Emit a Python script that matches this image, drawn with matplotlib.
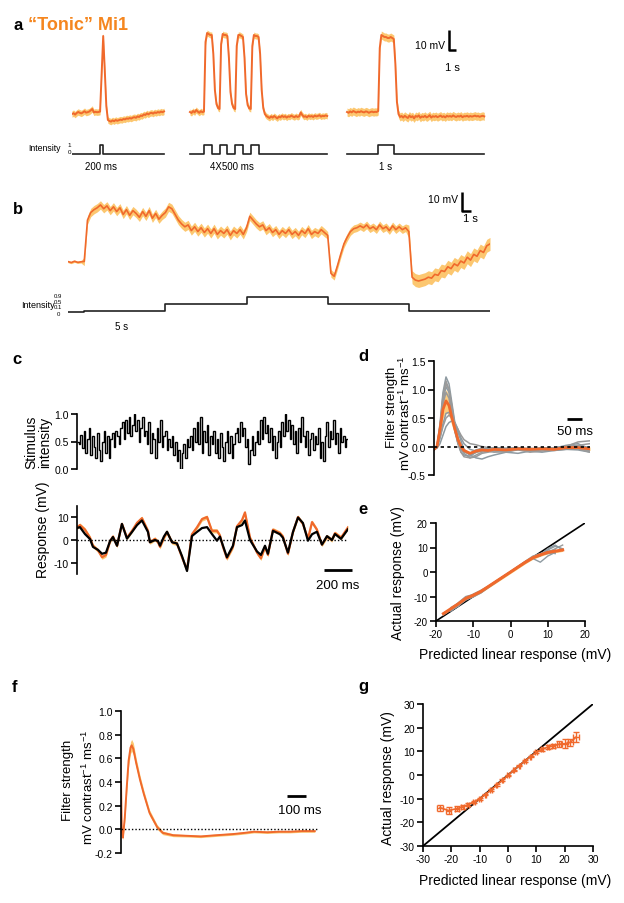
import numpy as np
import matplotlib
matplotlib.use('Agg')
import matplotlib.pyplot as plt

plt.rcParams['font.family'] = ['Liberation Sans', 'DejaVu Sans']
plt.rcParams['mathtext.fontset'] = 'custom'
plt.rcParams['mathtext.rm'] = 'Liberation Sans'
plt.rcParams['axes.unicode_minus'] = False

ORANGE = '#F0692C'
BAND = '#FCC770'
TITLE_OR = '#F5861F'
GREYS = ['#8E9AA1', '#9A9A9A']

# ---------------- data ----------------
# panel a: responses (mV) sampled every 0.1 s, three stimulus protocols
a_dt = 0.1
a_offsets = [0.0, 7.56, 17.63]
a_seg1 = [0.0, 0.4, -0.3, 0.5, 1.0, 0.6, 0.3, 0.8, 1.4, 0.7, 0.9, 1.2, 1.8, 2.5, 0.8, 1.1, 0.9, 1.0, 1.2,
          20, 39, 22, 4, -3,
          -3.5, -3.8, -3.2, -3.6, -3.0, -3.4, -3.1, -2.8, -3.0, -2.5, -2.7, -2.2, -2.4, -2.0, -2.3, -1.8,
          -1.6, -1.9, -1.2, -1.5, -0.8, -1.0, -0.2, -0.5, 0.3, -0.2, 0.4, 0.6, 0.2, 0.8, 0.5, 1.0, 0.7,
          1.2, 0.9, 1.3]
a_seg2 = [1.0, 0.5, 1.5, 0.8, 2.0, 1.2, 0.6, 1.4, 0.9,
          1.2,
          36, 40.5, 40, 39.5, 39.5, 30, 12, 5, 3,
          2.5, 35, 40, 39.5, 39.5, 39, 28, 11, 5, 3,
          2.5, 34, 39.5, 39.5, 39, 38.5, 28, 10, 4.5, 2.8,
          2.5, 34, 39.5, 39, 39, 38.5, 30, 12, 3, 0, -1,
          -1.5, -2.0, -1.2, -1.8, -1.0, -1.6, -2.2, -1.3, -1.7, -0.9, -1.5, -1.1, -1.8, -1.2, -1.4, -0.8,
          -1.3, -1.6, -1.0, -1.5, -1.2, 0.8, -0.5, -1.4, -1.1, -1.7, -0.9, -1.3, -1.0, -1.5, -0.8, -1.2,
          -1.0, -0.6, -1.3, -0.9, -1.1, -0.7, -1.0]
a_seg3 = [1.0, 0.6, 1.3, 0.8, 1.5, 1.1, 0.7, 1.2, 0.9, 1.4, 1.0, 0.8, 1.3, 1.1, 0.6, 1.0, 1.2, 0.9, 1.1, 1.0,
          1.5, 33, 39.5, 39, 38.5, 38.5, 38, 38, 38.5, 38, 37.5, 25, 6, 0, -1.5, -1.0,
          -1.8, -0.9, -1.5, -2.0, -0.8, -1.6, -1.1, -2.2, -1.0, -1.4, -0.7, -1.9, -1.2, -1.5, -0.9, -1.7,
          -1.3, -0.6, -1.8, -1.1, -1.4, -1.0, -1.6, -1.2, -0.8, -1.5, -1.1, -1.7, -0.9, -1.3, -1.0, -1.4,
          -0.7, -1.2, -1.5, -1.0, -1.3, -0.8, -1.6, -1.1, -1.2, -0.9, -1.4, -1.0, -1.3, -1.1, -0.8, -1.2,
          -1.0, -1.4, -1.1, -0.9, -1.2]
a_sem = [1.6, 1.5, 2.0]
# stimulus protocols (local times in s, intensity levels)
a_stim_t = [[0, 1.8, 2.0, 5.9],
            [0, 0.9, 1.4, 1.9, 2.4, 2.9, 3.4, 3.9, 4.4, 8.8],
            [0, 2.0, 3.0, 8.8]]
a_stim_lv = [[0, 1, 0],
             [0, 1, 0, 1, 0, 1, 0, 1, 0],
             [0, 1, 0]]
a_stim_names = ['200 ms', '4X500 ms', '1 s']

# panel b: response (mV) every 0.2 s, stepped intensities
b_dt = 0.2
b_resp = [0.2, -0.3, 0.4, -0.2, 0.1, 0.3,
          22, 26, 27.5, 28.5, 30, 28, 29.5, 27, 29, 26.5,
          28.5, 25, 27.5, 24.5, 27, 25.5, 23.5, 26.5, 24, 27,
          23, 25.5, 22.5, 24.5, 26, 29, 28, 25, 22, 20,
          18.5, 19.5, 16.5, 18.5, 16, 18, 15.5, 17.5, 15, 17.5,
          14.5, 16.5, 15, 17, 14, 16.5, 15, 17, 14.5, 18,
          24, 22, 20, 18.5, 19.5, 16.5, 18, 15.5, 17, 14.5,
          16.5, 15, 17, 14.5, 16, 14, 16.5, 15, 17.5, 14.5,
          16, 15, 17, 15.5, 14, -6, -7.5, -2, 4, 9.5,
          13, 16, 17.5, 18, 19, 18, 19.5, 17.5, 18.5, 17,
          19.5, 17.5, 18.5, 16.5, 19, 17, 18.5, 17, 18, 16,
          -8, -9.5, -10, -9.5, -9, -8, -8.5, -6.5, -7, -4.5,
          -5, -2.5, -3.5, -1, -2, 0.5, -0.5, 2.5, 1, 4,
          3, 6, 5, 8.5, 9.5]
b_step_t = [0, 1, 6, 11, 16, 21, 26]
b_step_lv = [0, 0.1, 0.5, 0.9, 0.5, 0.1]
b_sem_epoch = [0.6, 2.2, 2.4, 2.2, 2.0, 3.4]
b_int_labels = ['0.9', '0.5', '0.1', '0']

# panel c: white-noise stimulus and response
c_stim = [0.5, 0.45, 0.62, 0.38, 0.7, 0.3, 0.55, 0.75, 0.25, 0.6, 0.4, 0.2, 0.65, 0.35,
          0.15, 0.5, 0.7, 0.3, 0.6, 0.2, 0.55, 0.65, 0.4, 0.7, 0.6, 0.45,
          0.75, 0.85, 0.55, 0.9, 0.65, 0.95, 0.6, 0.8, 1.0, 0.7, 0.9, 0.5, 0.75, 0.95, 0.6,
          0.7, 0.45, 0.85, 0.3, 0.65, 0.55, 0.2, 0.75, 0.5, 0.9, 0.4, 0.6, 0.7, 0.35, 0.55,
          0.4, 0.6, 0.25, 0.5, 0.15, 0.35, 0.0, 0.3, 0.45, 0.2, 0.55, 0.4,
          0.6, 0.35, 0.75, 0.5, 0.85, 0.45, 0.95, 0.3, 0.7, 0.5, 0.8, 0.25, 0.6, 0.45, 0.7,
          0.3, 0.55, 0.2, 0.65, 0.4, 0.15, 0.5, 0.7, 0.3, 0.6, 0.2, 0.45, 0.65, 0.75, 0.5,
          0.85, 0.6, 0.75, 0.4, 0.55, 0.1, 0.35, 0.6, 0.25, 0.5, 0.7, 0.45, 0.9, 0.55, 0.95,
          0.65, 0.8, 0.5, 0.75, 0.35, 0.6, 0.2, 0.5, 0.7, 0.4, 0.85, 0.6, 1.0, 0.7, 0.9,
          0.55, 0.8, 0.45, 0.7, 0.3, 0.75, 0.5, 0.95, 0.6, 0.4, 0.7, 0.25, 0.55, 0.65, 0.35,
          0.6, 0.45, 0.75, 0.2, 0.5, 0.15, 0.6, 0.85, 0.4, 0.7, 0.55, 0.9, 0.45, 0.65, 0.3,
          0.75, 0.5, 0.6, 0.4, 0.55]
c_duration = 1.936
c_t = [0, .021, .057, .093, .114, .150, .179, .207, .236, .257, .286, .321, .357, .393, .429,
       .464, .507, .521, .557, .579, .593, .621, .643, .679, .714, .750, .786, .821, .857, .893,
       .929, .964, 1.0, 1.021, 1.043, 1.071, 1.114, 1.143, 1.179, 1.2, 1.236, 1.286, 1.314,
       1.343, 1.364, 1.4, 1.45, 1.471, 1.507, 1.543, 1.579, 1.614, 1.65, 1.679, 1.714, 1.75,
       1.786, 1.821, 1.843, 1.886, 1.936]
c_pred = [5.2, 5.6, 2.6, 0.4, -3, -4.3, -6, -5.5, -0.5, 1.3, -2.5, 7, 0.6, 3.5, 6.5,
          8.5, 3.5, -1, 0, -0.5, -2.5, 1.5, 3.6, -1, -1.5, -7, -13.5, 1.7, 3.5, 5.2,
          5.6, 2.6, -0.3, 1.5, -2.5, -7.5, -2.5, 5.6, 6.5, 8.5, 0, -5, -6.5,
          -2.5, -6, 4, 2.5, 1.0, -5.5, 3.5, 9.8, 7.4, -0.3, 2.5, 3.6, -2,
          1.7, 0, 2.6, 0.5, 4.7]
c_resp = [5.5, 6.5, 4.5, 1.0, -2.5, -4.5, -7.5, -6.5, -0.5, 1.5, -2.5, 7, 1, 4, 7.5,
          9.5, 4, -1, 0.5, -1, -3, 1.0, 3.5, -1, -1.5, -7.5, -13, 2.5, 5.5, 9.1,
          10, 4, 4, 2, -3, -8, -3, 6, 8.7, 12, 1, -5.5, -8,
          -3, -6.5, 4.5, 3, 1.5, -6, 3.5, 10, 7, 0.5, 7.8, 4.5, -2,
          1.5, 0, 3, 1, 5.5]
c_sem = 0.9
c_scale_ms = 200

# panel d: linear filters (mV contrast^-1 ms^-1) vs time (ms)
d_t = [0, 10, 20, 30, 40, 50, 60, 70, 80, 90, 100, 120, 140, 160, 180, 200, 240, 280, 320, 360,
       400, 440, 480, 520]
d_cells = [
    [-0.05, 0.0, 0.4, 0.95, 1.22, 1.1, 0.75, 0.4, 0.15, 0.0, -0.08, -0.15, -0.1, -0.08, -0.05, -0.06,
     -0.05, -0.03, -0.05, -0.02, -0.03, 0.02, 0.05, -0.05],
    [-0.04, 0.02, 0.35, 0.9, 1.15, 1.0, 0.7, 0.35, 0.1, -0.05, -0.12, -0.2, -0.18, -0.12, -0.1, -0.08,
     -0.1, -0.05, -0.08, -0.06, -0.07, -0.05, -0.03, -0.08],
    [-0.06, 0.0, 0.3, 0.8, 1.05, 0.95, 0.6, 0.3, 0.05, -0.1, -0.15, -0.17, -0.1, -0.05, -0.04, -0.06,
     -0.08, -0.03, -0.06, -0.05, -0.04, -0.02, 0.0, -0.06],
    [-0.05, 0.0, 0.3, 0.75, 0.95, 0.85, 0.55, 0.25, 0.05, -0.05, -0.1, -0.12, -0.06, -0.03, -0.05, -0.02,
     -0.04, -0.02, -0.05, -0.03, -0.04, 0.0, 0.08, 0.1],
    [-0.05, -0.02, 0.15, 0.4, 0.58, 0.6, 0.5, 0.4, 0.3, 0.15, 0.05, -0.05, -0.08, -0.05, -0.03, -0.02,
     -0.03, -0.02, -0.05, -0.04, -0.03, 0.0, 0.02, -0.02],
    [-0.04, 0.0, 0.15, 0.35, 0.5, 0.55, 0.5, 0.42, 0.3, 0.2, 0.12, 0.05, 0.03, 0.0, -0.02, -0.04,
     -0.05, -0.04, -0.03, -0.05, -0.02, -0.01, 0.02, 0.05],
    [-0.05, -0.03, 0.05, 0.2, 0.35, 0.42, 0.45, 0.38, 0.25, 0.1, -0.05, -0.15, -0.2, -0.22, -0.18, -0.15,
     -0.1, -0.12, -0.08, -0.1, -0.07, -0.05, -0.06, -0.1],
    [-0.05, 0.0, 0.35, 0.85, 1.1, 1.0, 0.65, 0.3, 0.05, -0.1, -0.18, -0.2, -0.15, -0.1, -0.08, -0.1,
     -0.09, -0.06, -0.1, -0.08, -0.06, -0.03, -0.04, -0.1],
]
d_mean = [-0.05, 0.0, 0.3, 0.65, 0.8, 0.72, 0.5, 0.3, 0.12, 0.0, -0.07, -0.12, -0.08, -0.06, -0.07, -0.05,
          -0.06, -0.04, -0.05, -0.04, -0.05, -0.02, -0.02, -0.04]
d_sem = [0.01, 0.02, 0.08, 0.15, 0.2, 0.18, 0.14, 0.1, 0.06, 0.04, 0.03, 0.03, 0.03, 0.02, 0.02, 0.02,
         0.02, 0.02, 0.02, 0.02, 0.02, 0.02, 0.03, 0.03]
d_scale_ms = 50

# panel e: actual vs predicted (mV), individual cells and mean
nan = np.nan
e_x = [-18, -16, -14, -12, -10, -8, -6, -4, -2, 0, 2, 4, 6, 8, 10, 12, 14]
e_cells = [
    [-17.5, -15.5, -13.5, -10.5, -9.5, -8.5, -6.2, -4.2, -2.1, 0, 2.2, 4.3, 6, 7.5, 8.5, 9, nan],
    [-17, -15, -12.5, -10, -9.2, -8, -6, -4, -2, 0.2, 2.3, 4.4, 6.5, 7.5, 8, 9.5, 11],
    [nan, -16, -13.5, -11.5, -10, -8.2, -6.3, -4.2, -2.2, -0.1, 2, 4, 5.8, 6.5, 9, 10.5, 9.5],
    [nan, -15.5, -14, -11, -9, -7.5, -5.8, -3.8, -1.8, 0.1, 2.1, 4.2, 6, 7, 7.5, 8, nan],
    [-16.8, -15.2, -13, -10.8, -9.8, -8.3, -6.1, -4.1, -2, 0, 2, 3.8, 5.5, 4, 6.5, 8, nan],
    [nan, -14.5, -12.8, -10.2, -9.4, -7.8, -5.9, -3.9, -1.9, 0.1, 2.1, 4.1, 5.7, 7.2, 8.2, 7.5, nan],
    [nan, -15.8, -13.8, -11.2, -10.2, -8.6, -6.4, -4.3, -2.2, -0.1, 1.9, 3.9, 5.6, 7, 9.5, 11, 9],
    [-17.2, -15.3, -13.2, -10.6, -9.6, -8.1, -6, -4, -2, 0, 2, 4, 5.8, 7.3, 8, 8.8, nan],
]
e_mean = [-17, -15, -13, -10.8, -9.5, -8, -6, -4, -2, 0, 2, 4, 5.8, 7, 8, 8.5, 9]
e_sem = 0.6
e_identity = [-20, 20]

# panel f: population filter
f_t = [0, 4, 10, 20, 30, 40, 50, 56, 65, 80, 100, 120, 150, 190, 220, 275, 350, 420, 500, 590, 650,
       700, 770, 830, 890, 950, 1020]
f_v = [0.4, 0.0, -0.07, 0.1, 0.35, 0.58, 0.69, 0.71, 0.68, 0.56, 0.42, 0.3, 0.14, 0.02, -0.03, -0.05,
       -0.055, -0.06, -0.05, -0.04, -0.03, -0.02, -0.025, -0.02, -0.02, -0.015, -0.015]
f_sem = [0.01, 0.01, 0.02, 0.03, 0.04, 0.05, 0.05, 0.05, 0.05, 0.04, 0.035, 0.03, 0.025, 0.02, 0.015,
         0.012, 0.01, 0.01, 0.01, 0.01, 0.01, 0.01, 0.01, 0.01, 0.01, 0.01, 0.01]
f_scale_ms = 100

# panel g: binned actual vs predicted with errors
g_x = [-24, -21, -18, -16, -14, -12, -10, -8, -6, -4, -2, 0, 2, 4, 6, 8, 10, 12, 14, 16, 18, 20, 22, 24]
g_y = [-13.8, -15, -14.2, -13.5, -12.5, -11.3, -10, -8.3, -6.3, -4.3, -2.2, -0.2, 2, 4, 6, 7.8, 9.6,
       10.8, 11.8, 12.3, 13, 13.2, 13.8, 16]
g_xerr = [1.0, 0.8, 0.6, 0.5, 0.4, 0.3, 0.3, 0.2, 0.2, 0.2, 0.2, 0.2, 0.2, 0.2, 0.2, 0.2, 0.3, 0.3, 0.4,
          0.5, 0.6, 0.8, 1.0, 1.2]
g_yerr = [1.2, 1.3, 0.9, 0.7, 0.6, 0.5, 0.4, 0.3, 0.3, 0.3, 0.3, 0.3, 0.3, 0.3, 0.3, 0.4, 0.5, 0.6, 0.8,
          1.0, 1.2, 2.0, 1.5, 2.0]
g_identity = [-30, 30]

# ---------------- figure ----------------
W, H = 624, 904
fig = plt.figure(figsize=(W / 100, H / 100), dpi=100)


def axpx(x0, y0, x1, y1):
    return fig.add_axes([x0 / W, 1 - y1 / H, (x1 - x0) / W, (y1 - y0) / H])


def txt(x, y, s, **kw):
    kw.setdefault('ha', 'left')
    kw.setdefault('va', 'center')
    fig.text(x / W, 1 - y / H, s, **kw)


def style_left(ax, size=7.5):
    for s in ['top', 'right', 'bottom']:
        ax.spines[s].set_visible(False)
    ax.spines['left'].set_linewidth(1.2)
    ax.tick_params(axis='y', direction='out', length=4, width=1.2, labelsize=size, pad=2)
    ax.set_xticks([])
    ax.patch.set_alpha(0)


def lbl(x, y, s, size=12):
    txt(x, y, s, fontsize=size, fontweight='bold', ha='center')


# ---- panel a ----
axa = axpx(72, 24, 486, 134)
axa.set_xlim(0, 26.54)
axa.set_ylim(-9.5, 45.5)
axa.axis('off')
for off, seg, sem in zip(a_offsets, [a_seg1, a_seg2, a_seg3], a_sem):
    v = np.array(seg)
    t = off + np.arange(len(v)) * a_dt
    axa.fill_between(t, v - sem, v + sem, color=BAND, lw=0)
    axa.plot(t, v, color=ORANGE, lw=1.4)
# scale bar (10 mV, "1 s")
axa.plot([24.17, 24.17, 24.62], [42, 32, 32], color='k', lw=1.8, solid_capstyle='butt', clip_on=False)

axas = axpx(72, 140, 486, 160)
axas.set_xlim(0, 26.54)
axas.set_ylim(-0.56, 1.67)
axas.axis('off')
for off, st, lv in zip(a_offsets, a_stim_t, a_stim_lv):
    axas.step(off + np.array(st), lv + [lv[-1]], where='post', color='#222222', lw=1.2)

lbl(18, 25, 'a')
txt(28, 25, '\u201cTonic\u201d Mi1', fontsize=13, fontweight='bold', color=TITLE_OR)
txt(445, 46, '10 mV', fontsize=7.5, ha='right')
txt(452, 68, '1 s', fontsize=8, ha='center')
txt(28, 149, 'Intensity', fontsize=6.3)
txt(69, 145.5, '1', fontsize=4.5, ha='center')
txt(69, 153, '0', fontsize=4.5, ha='center')
for x, s in zip([101, 232, 386], a_stim_names):
    txt(x, 167, s, fontsize=7, ha='center')

# ---- panel b ----
axb = axpx(68, 185, 490, 290)
axb.set_xlim(0, 26)
axb.set_ylim(-14.2, 41)
axb.axis('off')
bv = np.array(b_resp)
bt = np.arange(len(bv)) * b_dt
bsem = np.array(b_sem_epoch)[np.clip(np.searchsorted(b_step_t, bt, side='right') - 1, 0, len(b_sem_epoch) - 1)]
axb.fill_between(bt, bv - bsem, bv + bsem, color=BAND, lw=0)
axb.plot(bt, bv, color=ORANGE, lw=1.2)
axb.plot([24.3, 24.3, 24.8], [36.8, 26.8, 26.8], color='k', lw=1.8, solid_capstyle='butt', clip_on=False)

axbs = axpx(68, 290, 490, 320)
axbs.set_xlim(0, 26)
axbs.set_ylim(-0.38, 1.37)
axbs.axis('off')
axbs.step(b_step_t, b_step_lv + [b_step_lv[-1]], where='post', color='#222222', lw=1.2)

lbl(18, 210, 'b')
txt(458, 200, '10 mV', fontsize=7.5, ha='right')
txt(470, 219, '1 s', fontsize=8, ha='center')
txt(21, 305, 'Intensity', fontsize=6.5)
for y, s in zip([296, 302, 308, 314.5], b_int_labels):
    txt(58, y, s, fontsize=4.3, ha='center')
txt(122, 327, '5 s', fontsize=7, ha='center')

# ---- panel c ----
lbl(17, 360, 'c')
axc1 = axpx(77, 415, 348, 470)
edges = np.arange(len(c_stim) + 1) * (c_duration / len(c_stim))
axc1.stairs(c_stim, edges, color='k', lw=1.0, baseline=None)
axc1.set_xlim(0, c_duration)
axc1.set_ylim(0, 1)
style_left(axc1)
axc1.set_yticks([0, 0.5, 1.0])
axc1.set_yticklabels(['0.0', '0.5', '1.0'])
txt(38, 442, 'Stimulus\nintensity', fontsize=10, rotation=90, ha='center', multialignment='center',
    linespacing=0.95)

axc2 = axpx(77, 507, 348, 575)
cr = np.array(c_resp)
axc2.fill_between(c_t, cr - c_sem, cr + c_sem, color=BAND, lw=0)
axc2.plot(c_t, cr, color=ORANGE, lw=1.6)
axc2.plot(c_t, c_pred, color='k', lw=1.6)
axc2.axhline(0, color='k', lw=1.0, ls=(0, (1, 1.5)))
axc2.set_xlim(0, c_duration)
axc2.set_ylim(-14.8, 14.8)
style_left(axc2)
axc2.set_yticks([-10, 0, 10])
c_bar0 = 1.764
axc2.plot([c_bar0, c_bar0 + c_scale_ms / 1000], [-13, -13], color='k', lw=2, clip_on=False,
          solid_capstyle='butt')
txt(338, 586, '200 ms', fontsize=9.5, ha='center')
txt(43, 530, 'Response (mV)', fontsize=10, rotation=90, ha='center')

# ---- panel d ----
lbl(363, 357, 'd')
axd = axpx(434, 362, 590, 476)
for i, cell in enumerate(d_cells):
    axd.plot(d_t, cell, color=GREYS[i % 2], lw=1.1)
dm = np.array(d_mean)
ds = np.array(d_sem)
axd.fill_between(d_t, dm - ds, dm + ds, color=BAND, lw=0, alpha=0.9)
axd.plot(d_t, dm, color=ORANGE, lw=2.0)
axd.axhline(0, color='k', lw=1.2, ls=(0, (2, 2)))
axd.set_xlim(0, 520)
axd.set_ylim(-0.5, 1.5)
style_left(axd)
axd.set_yticks([-0.5, 0, 0.5, 1.0, 1.5])
axd.set_yticklabels(['-0.5', '0.0', '0.5', '1.0', '1.5'])
axd.plot([443, 443 + d_scale_ms], [0.49, 0.49], color='k', lw=2, solid_capstyle='butt')
txt(575, 432, '50 ms', fontsize=9.5, ha='center')
txt(392, 407, 'Filter strength', fontsize=9.5, rotation=90, ha='center')
txt(405, 413, r'mV contrast$^{\mathregular{-1}}$ ms$^{\mathregular{-1}}$', fontsize=9.5, rotation=90,
    ha='center')

# ---- panel e ----
lbl(363, 510, 'e')
axe = axpx(436, 524, 585, 622)
axe.plot(e_identity, e_identity, color='k', lw=1.2)
for i, cell in enumerate(e_cells):
    axe.plot(e_x, cell, color=GREYS[i % 2], lw=1.0)
em = np.array(e_mean)
axe.fill_between(e_x, em - e_sem, em + e_sem, color=BAND, lw=0)
axe.plot(e_x, em, color=ORANGE, lw=2.2)
axe.set_xlim(-20, 20)
axe.set_ylim(-20, 20)
for s in ['top', 'right']:
    axe.spines[s].set_visible(False)
for s in ['left', 'bottom']:
    axe.spines[s].set_linewidth(1.2)
axe.tick_params(direction='out', length=4, width=1.2, labelsize=7, pad=2)
axe.set_xticks([-20, -10, 0, 10, 20])
axe.set_yticks([-20, -10, 0, 10, 20])
axe.patch.set_alpha(0)
txt(515, 655, 'Predicted linear response (mV)', fontsize=10, ha='center')
txt(398, 573, 'Actual response (mV)', fontsize=10, rotation=90, ha='center')

# ---- panel f ----
lbl(15, 687, 'f')
axf = axpx(121, 712, 318, 854)
fv = np.array(f_v)
fs = np.array(f_sem)
axf.fill_between(f_t, fv - fs, fv + fs, color=BAND, lw=0)
axf.plot(f_t, fv, color=ORANGE, lw=1.4)
axf.axhline(0, color='k', lw=1.0, ls=(0, (1, 1.5)))
axf.set_xlim(0, 1037)
axf.set_ylim(-0.2, 1.0)
style_left(axf)
axf.set_yticks([-0.2, 0, 0.2, 0.4, 0.6, 0.8, 1.0])
axf.set_yticklabels(['-0.2', '0.0', '0.2', '0.4', '0.6', '0.8', '1.0'])
axf.plot([874, 874 + f_scale_ms], [0.28, 0.28], color='k', lw=2, solid_capstyle='butt')
txt(300, 811, '100 ms', fontsize=9.5, ha='center')
txt(68, 780, 'Filter strength', fontsize=9.5, rotation=90, ha='center')
txt(88, 787, r'mV contrast$^{\mathregular{-1}}$ ms$^{\mathregular{-1}}$', fontsize=9.5, rotation=90,
    ha='center')

# ---- panel g ----
lbl(363, 687, 'g')
axg = axpx(423, 705, 593, 847)
axg.plot(g_identity, g_identity, color='k', lw=1.3)
axg.errorbar(g_x, g_y, xerr=g_xerr, yerr=g_yerr, color=ORANGE, lw=1.2, elinewidth=1.0, capsize=2.2,
             capthick=1.0)
axg.set_xlim(-30, 30)
axg.set_ylim(-30, 30)
for s in ['top', 'right']:
    axg.spines[s].set_visible(False)
for s in ['left', 'bottom']:
    axg.spines[s].set_linewidth(1.2)
axg.tick_params(direction='out', length=4, width=1.2, labelsize=7.5, pad=2)
axg.set_xticks(range(-30, 31, 10))
axg.set_yticks(range(-30, 31, 10))
axg.patch.set_alpha(0)
txt(515, 881, 'Predicted linear response (mV)', fontsize=10, ha='center')
txt(388, 778, 'Actual response (mV)', fontsize=10, rotation=90, ha='center')

fig.savefig('out.png', dpi=100)
